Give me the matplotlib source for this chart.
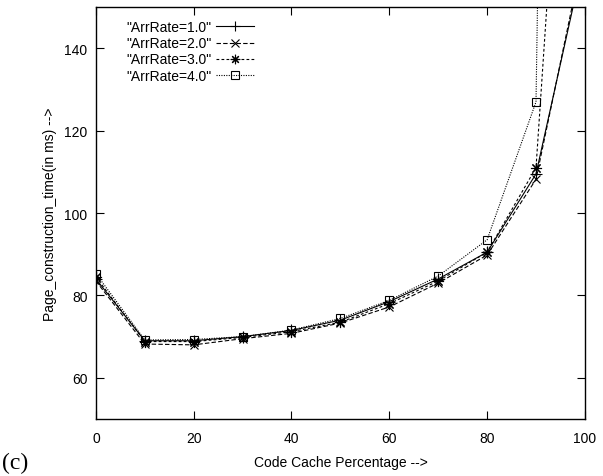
import numpy as np
import matplotlib
matplotlib.use('Agg')
import matplotlib.pyplot as plt

plt.rcParams['font.family'] = ['Liberation Sans', 'DejaVu Sans']

# cache percentage on x, page construction time (ms) per arrival rate
cache_pct = [0, 10, 20, 30, 40, 50, 60, 70, 80, 90, 100]
arr_1 = [84.0, 69.0, 69.0, 70.0, 71.5, 74.0, 78.5, 84.0, 90.5, 109.5, 163.0]
arr_2 = [83.5, 68.2, 68.0, 69.5, 70.8, 73.3, 77.2, 83.0, 89.8, 108.2, 165.0]
arr_3 = [84.5, 68.8, 68.8, 69.8, 71.2, 73.5, 78.0, 83.5, 90.5, 111.0, 288.0]
arr_4 = [85.3, 69.2, 69.3, 70.0, 71.6, 74.4, 78.8, 84.7, 93.5, 127.0, 900.0]
labels = ['"ArrRate=1.0"', '"ArrRate=2.0"', '"ArrRate=3.0"', '"ArrRate=4.0"']

fig = plt.figure(figsize=(6.03, 4.77), dpi=100)
ax = fig.add_axes([0.159, 0.1195, 0.811, 0.8635])

lw = 0.8
ax.plot(cache_pct, arr_1, color='black', lw=lw, ls='-', marker='+', ms=8, mew=0.8, label=labels[0])
ax.plot(cache_pct, arr_2, color='black', lw=lw, ls=(0, (4, 2)), marker='x', ms=6, mew=0.8, label=labels[1])
ax.plot(cache_pct, arr_3, color='black', lw=lw, ls=(0, (2.5, 2)), marker=(8, 2, 0), ms=8, mew=0.8, label=labels[2])
ax.plot(cache_pct, arr_4, color='black', lw=lw, ls=(0, (1, 1.2)), marker='s', ms=6, mew=0.8,
        fillstyle='none', label=labels[3])

ax.set_xlim(0, 100)
ax.set_ylim(50, 150)
ax.set_xticks([0, 20, 40, 60, 80, 100])
ax.set_yticks([60, 80, 100, 120, 140])
ax.tick_params(direction='in', top=True, right=True, length=6, width=0.8, labelsize=10)
ax.tick_params(axis='x', pad=9)
ax.tick_params(axis='y', pad=6)
for s in ax.spines.values():
    s.set_linewidth(1.0)

ax.set_xlabel('Code Cache Percentage -->', fontsize=10, labelpad=7)
ax.set_ylabel('Page_construction_time(in ms) -->', fontsize=10, labelpad=5)

leg = ax.legend(loc='upper left', bbox_to_anchor=(0.035, 1.0), frameon=False, markerfirst=False,
                fontsize=10, handlelength=2.8, handletextpad=0.3, labelspacing=0.15,
                borderpad=0.45, markerscale=0.85)
for t in leg.get_texts():
    t.set_ha('right')

fig.text(0.004, 0.029, '(c)', fontsize=17, family='Liberation Serif', va='center')

fig.savefig('out.png', dpi=100)
